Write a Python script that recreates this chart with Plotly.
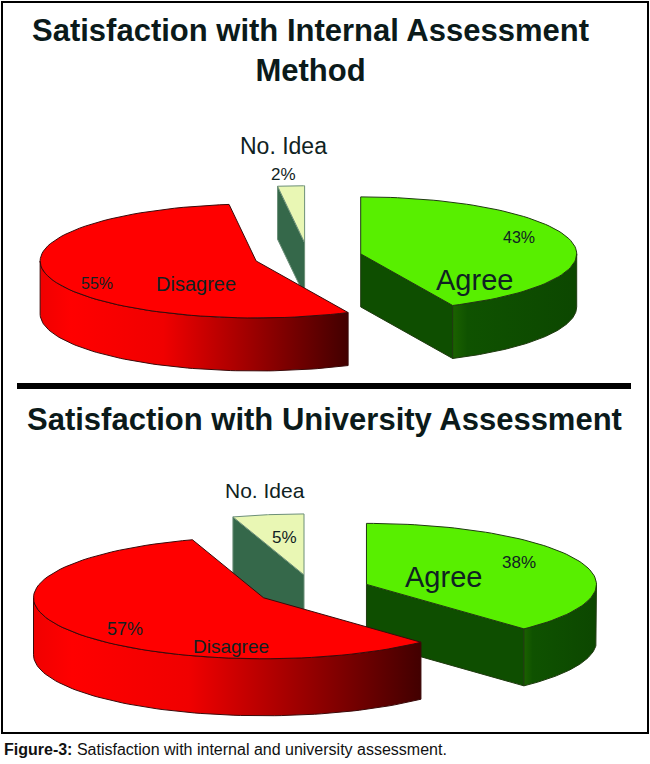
import numpy as np
import plotly.graph_objects as go

# ---- data ----
categories = ["Agree", "Disagree", "No. Idea"]
internal_pct = [43, 55, 2]
university_pct = [38, 57, 5]

titles = ["Satisfaction with Internal Assessment<br>Method",
          "Satisfaction with University Assessment"]
caption_bold = "Figure-3:"
caption_text = "Satisfaction with internal and university assessment."

# ---- look of the 3-D pies (page pixels, y grows downwards) ----
pies = [
    dict(values=internal_pct, cx=308, cy=257, a=216, b=57, depth=53, pull=0.25,
         title_x=310, title_y=50, title_size=31),
    dict(values=university_pct, cx=313, cy=590, a=230, b=61, depth=57, pull=0.25,
         title_x=324, title_y=419, title_size=31),
]

top_colors = {"Agree": "#58ef00", "Disagree": "#ff0000", "No. Idea": "#e9f7b4"}
cut_colors = {"Agree": "#0e4e00", "Disagree": "#b00000", "No. Idea": "#35684a"}
wall_scales = {
    "Agree": [[0, "#1b6200"], [0.12, "#0f5200"], [1, "#0c4700"]],
    "Disagree": [[0, "#f00000"], [0.1, "#ff0000"], [0.4, "#f00000"], [1, "#420000"]],
    "No. Idea": [[0, "#35684a"], [1, "#2a5538"]],
}
edge_colors = {"Agree": "#1f3a10", "Disagree": "#3a0a0a", "No. Idea": "#6c8f78"}

# label positions / sizes per pie: (x, y, size)
label_pos = [
    {"name": {"Agree": (474, 280, 29), "Disagree": (196, 284, 20), "No. Idea": (283, 146, 23)},
     "pct": {"Agree": (519, 237, 16), "Disagree": (97, 283, 16), "No. Idea": (283, 174, 17)}},
    {"name": {"Agree": (443, 577, 29), "Disagree": (231, 646, 19), "No. Idea": (265, 490, 21)},
     "pct": {"Agree": (519, 562, 17), "Disagree": (125, 629, 18), "No. Idea": (284, 537, 17)}},
]

fig = go.Figure()


def arc(cx, cy, a, b, t0, t1, n=80, dy=0):
    t = np.radians(np.linspace(t0, t1, n))
    return cx + a * np.cos(t), cy - b * np.sin(t) + dy


def poly(xs, ys, name, color=None, scale=None, edge="#333333"):
    tr = dict(x=np.append(xs, xs[0]), y=np.append(ys, ys[0]), mode="lines",
              fill="toself", line=dict(color=edge, width=1), hoverinfo="skip",
              showlegend=False, name=name)
    if scale is not None:
        tr["fillgradient"] = dict(type="horizontal", colorscale=scale,
                                  start=float(np.min(xs)), stop=float(np.max(xs)))
        tr["fillcolor"] = scale[-1][1]
    else:
        tr["fillcolor"] = color
    fig.add_trace(go.Scatter(**tr))


for p, lab in zip(pies, label_pos):
    vals = p["values"]
    total = float(sum(vals))
    a, b, d = p["a"], p["b"], p["depth"]
    parts = []
    ang = 90.0
    for cat, v in zip(categories, vals):
        sweep = 360.0 * v / total
        lo, hi = ang - sweep, ang
        ang = lo
        mid = np.radians((lo + hi) / 2)
        sx = p["cx"] + p["pull"] * a * np.cos(mid)
        sy = p["cy"] - p["pull"] * b * np.sin(mid)
        parts.append((sy, cat, lo, hi, sx))

    # paint from back to front
    for sy, cat, lo, hi, sx in sorted(parts):
        edge = edge_colors[cat]
        # radial cut faces that look towards the viewer
        for phi, show in ((lo, np.cos(np.radians(lo)) > 1e-6),
                          (hi, np.cos(np.radians(hi)) < -1e-6)):
            if show:
                rx, ry = arc(sx, sy, a, b, phi, phi, n=1)
                poly(np.array([sx, rx[0], rx[0], sx]),
                     np.array([sy, ry[0], ry[0] + d, sy + d]),
                     cat, color=cut_colors[cat], edge=edge)
        # outer curved wall, front half only
        for k in range(-2, 3):
            s, e = max(lo, 360 * k - 180), min(hi, 360 * k)
            if e > s:
                tx, ty = arc(sx, sy, a, b, s, e)
                bx, by = arc(sx, sy, a, b, e, s, dy=d)
                poly(np.concatenate([tx, bx]), np.concatenate([ty, by]),
                     cat, scale=wall_scales[cat], edge=edge)
        # top face
        tx, ty = arc(sx, sy, a, b, lo, hi)
        poly(np.concatenate([[sx], tx]), np.concatenate([[sy], ty]),
             cat, color=top_colors[cat], edge=edge)

    for cat, v in zip(categories, vals):
        x, y, s = lab["name"][cat]
        fig.add_annotation(x=x, y=y, text=cat, showarrow=False,
                           font=dict(size=s, color="#0f2222"))
        x, y, s = lab["pct"][cat]
        fig.add_annotation(x=x, y=y, text=f"{v}%", showarrow=False,
                           font=dict(size=s, color="#0f2222"))

for t, p in zip(titles, pies):
    fig.add_annotation(x=p["title_x"], y=p["title_y"],
                       text=f"<b>{t}</b>", showarrow=False,
                       font=dict(size=p["title_size"], color="#0b1a1a"),
                       align="center")

fig.add_annotation(x=2, y=749, xanchor="left",
                   text=f"<b>{caption_bold}</b> {caption_text}", showarrow=False,
                   font=dict(family="Liberation Sans, Arial, sans-serif",
                             size=16, color="#111111"))

# frame and separator
fig.add_shape(type="rect", x0=2, y0=2, x1=648, y1=733,
              line=dict(color="black", width=2))
fig.add_shape(type="line", x0=17, y0=386, x1=631, y1=386,
              line=dict(color="black", width=6))

fig.update_xaxes(range=[0, 650], visible=False, fixedrange=True)
fig.update_yaxes(range=[764, 0], visible=False, fixedrange=True)
fig.update_layout(
    width=650, height=764,
    margin=dict(l=0, r=0, t=0, b=0),
    paper_bgcolor="white", plot_bgcolor="white",
    font=dict(family="Liberation Sans, Arial, sans-serif"),
)

fig.write_html("out.html", config={"displayModeBar": False},
               post_script="document.body.style.margin='0';document.body.style.overflow='hidden';")
